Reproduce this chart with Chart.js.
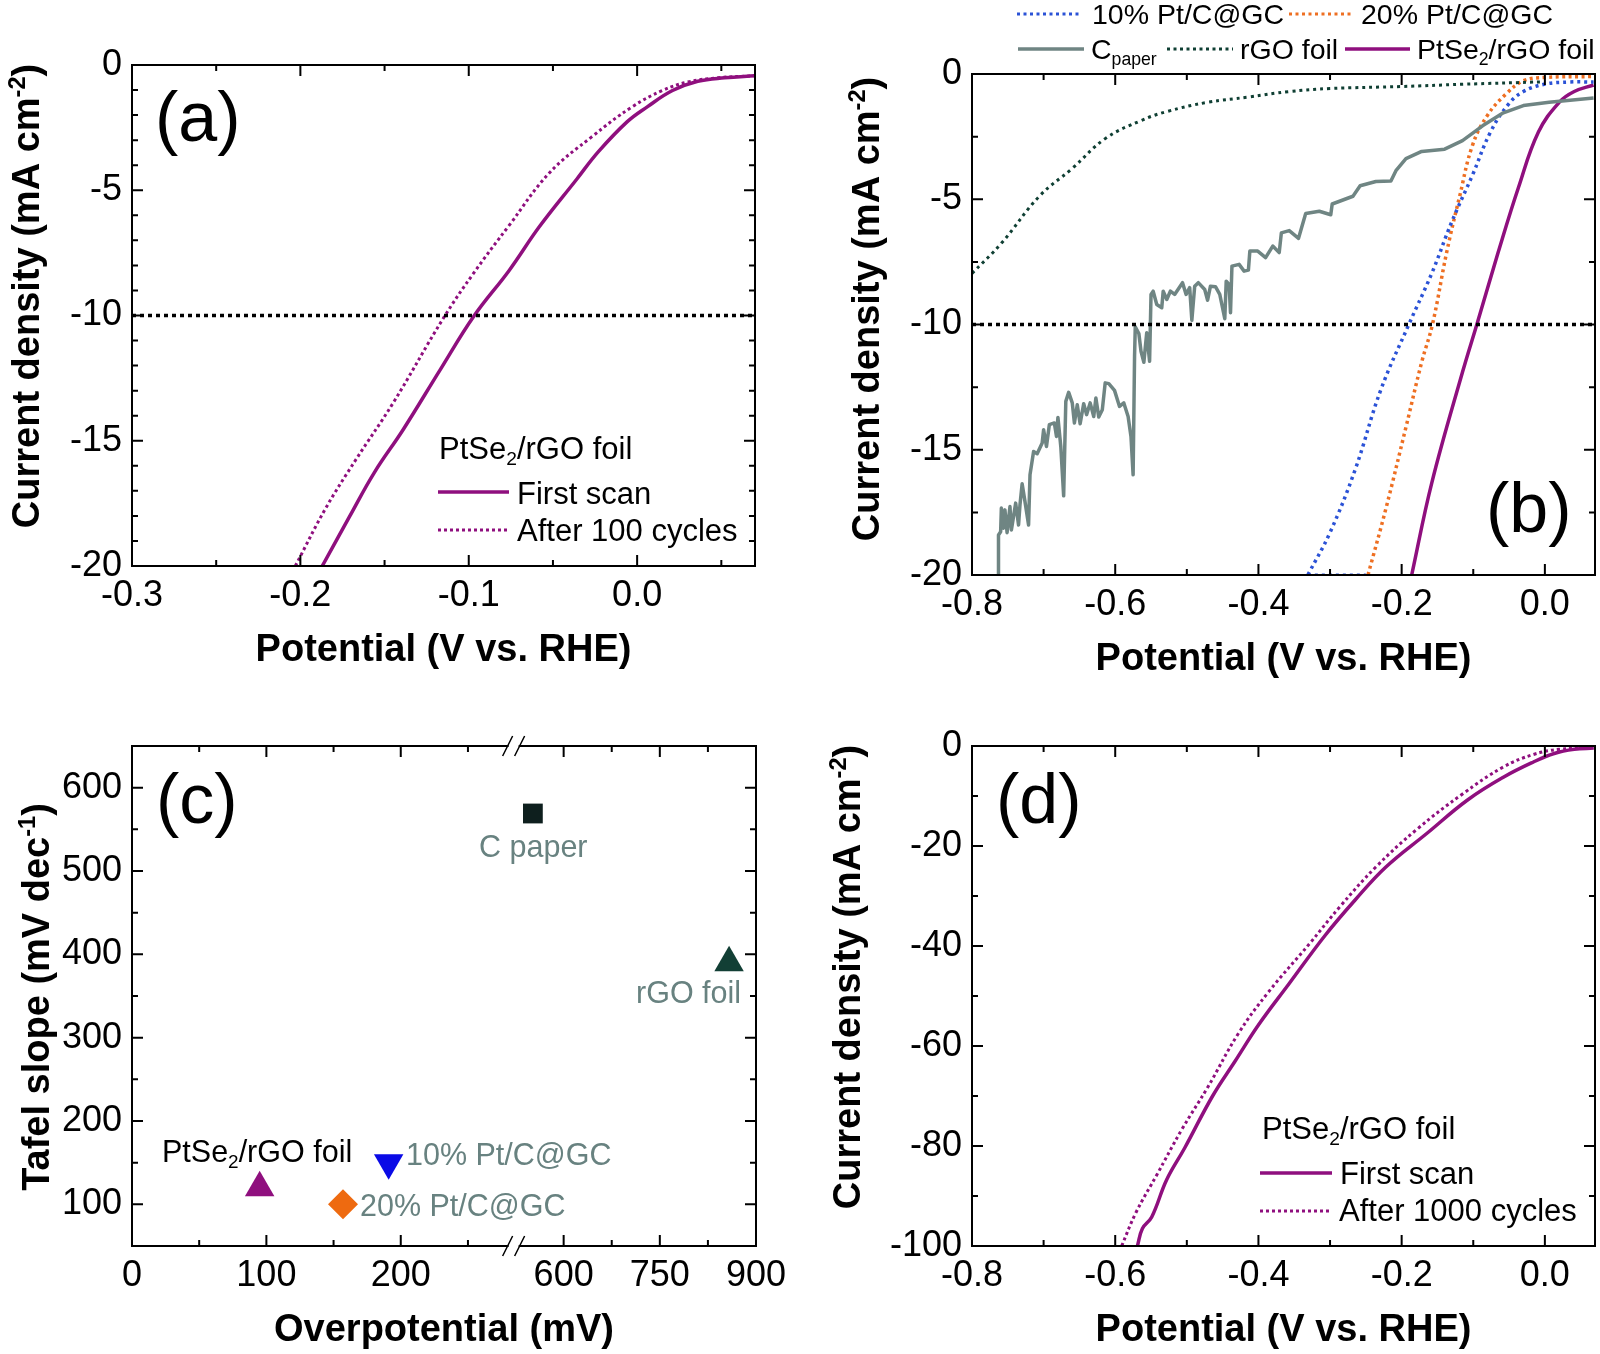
<!DOCTYPE html>
<html>
<head>
<meta charset="utf-8">
<title>PtSe2/rGO foil</title>
<script src="https://cdn.jsdelivr.net/npm/chart.js@4"></script>
<style>
  html, body { margin: 0; padding: 0; background: #fff; }
  #page { position: relative; width: 1600px; height: 1354px; overflow: hidden; }
  canvas { position: absolute; }
</style>
</head>
<body>
<div id="page">
  <canvas id="panelA" width="800" height="690" style="left:0;top:0"></canvas>
  <canvas id="panelB" width="800" height="690" style="left:800px;top:0"></canvas>
  <canvas id="panelC" width="800" height="664" style="left:0;top:690px"></canvas>
  <canvas id="panelD" width="800" height="664" style="left:800px;top:690px"></canvas>
</div>
<script>
// panel (a)
const aFirstX = [-0.187, -0.171, -0.156, -0.139, -0.117, -0.097, -0.076, -0.058, -0.036, -0.023, -0.006, 0.006, 0.021, 0.036, 0.052, 0.07];
const aFirstY = [-20, -18.05, -16.26, -14.56, -12.17, -10.03, -8.2, -6.45, -4.57, -3.46, -2.27, -1.67, -1.02, -0.65, -0.51, -0.43];
const aCycledX = [-0.203, -0.185, -0.167, -0.145, -0.115, -0.097, -0.076, -0.052, -0.027, -0.003, 0.015, 0.03, 0.048, 0.07];
const aCycledY = [-20, -17.7, -15.75, -13.5, -10.1, -8.3, -6.4, -4.3, -2.87, -1.67, -1.02, -0.68, -0.51, -0.43];

// panel (b)
const b10X = [-0.331, -0.3, -0.265, -0.229, -0.19, -0.158, -0.13, -0.101, -0.076, -0.051, -0.03, -0.001, 0.034, 0.068];
const b10Y = [-20, -18.3, -15.8, -12.6, -10, -7.96, -5.9, -4.03, -2.32, -1.21, -0.7, -0.41, -0.32, -0.32];
const b10BaseX = [-0.331, -0.25];
const b10BaseY = [-20, -20];
const b20X = [-0.247, -0.222, -0.194, -0.172, -0.157, -0.137, -0.119, -0.101, -0.08, -0.055, -0.03, -0.001, 0.068];
const b20Y = [-20, -17.35, -14.1, -11.5, -10, -7.1, -4.88, -2.84, -1.64, -0.82, -0.27, -0.14, -0.1];
const bPtSeX = [-0.186, -0.158, -0.115, -0.095, -0.065, -0.037, -0.009, 0.02, 0.041, 0.068];
const bPtSeY = [-20, -16.33, -11.9, -10, -7.1, -4.54, -2.32, -1.13, -0.7, -0.44];
const bRgoX = [-0.8, -0.759, -0.706, -0.66, -0.614, -0.564, -0.528, -0.471, -0.414, -0.357, -0.3, -0.2, -0.115, 0];
const bRgoY = [-7.96, -6.76, -4.88, -3.77, -2.58, -1.86, -1.5, -1.13, -0.92, -0.7, -0.58, -0.5, -0.41, -0.31];
const bPaperX = [-0.763, -0.763, -0.76, -0.759, -0.756, -0.754, -0.751, -0.747, -0.745, -0.739, -0.735, -0.733, -0.73, -0.726, -0.721, -0.719, -0.714, -0.709, -0.702, -0.7, -0.696, -0.692, -0.685, -0.682, -0.68, -0.676, -0.672, -0.669, -0.665, -0.66, -0.657, -0.653, -0.649, -0.644, -0.64, -0.635, -0.63, -0.627, -0.623, -0.618, -0.614, -0.609, -0.601, -0.594, -0.588, -0.582, -0.578, -0.575, -0.573, -0.572, -0.567, -0.564, -0.56, -0.556, -0.552, -0.55, -0.547, -0.542, -0.535, -0.533, -0.528, -0.523, -0.517, -0.506, -0.501, -0.496, -0.493, -0.489, -0.484, -0.475, -0.471, -0.467, -0.46, -0.454, -0.447, -0.445, -0.441, -0.439, -0.437, -0.427, -0.42, -0.414, -0.412, -0.401, -0.39, -0.38, -0.371, -0.368, -0.357, -0.344, -0.334, -0.315, -0.299, -0.297, -0.268, -0.258, -0.236, -0.215, -0.208, -0.194, -0.172, -0.14, -0.115, -0.087, -0.058, -0.03, 0.006, 0.068];
const bPaperY = [-20, -18.4, -18.27, -17.33, -18.13, -17.4, -18.31, -17.27, -18.2, -17.13, -18, -17.2, -16.36, -17.07, -18, -16, -15.07, -15.16, -14.73, -14.2, -14.87, -14, -13.93, -14.47, -13.71, -14.87, -16.84, -13.07, -12.71, -13.13, -13.93, -13.2, -13.96, -13.16, -13.6, -13.13, -13.67, -12.93, -13.69, -13.4, -12.33, -12.36, -12.63, -13.27, -13.13, -13.67, -14.47, -16, -11.27, -10.09, -10.36, -11.07, -11.51, -10.33, -11.47, -8.8, -8.67, -9.2, -9.33, -8.67, -9, -8.67, -8.8, -8.33, -8.8, -8.53, -9.83, -8.47, -8.33, -8.6, -9.03, -8.47, -8.49, -8.8, -9.77, -8.27, -8.4, -9.53, -7.67, -7.6, -7.87, -7.83, -7.07, -7.07, -7.33, -6.87, -7.13, -6.34, -6.25, -6.56, -5.57, -5.48, -5.62, -5.19, -4.88, -4.46, -4.29, -4.27, -3.86, -3.38, -3.09, -3, -2.66, -2.07, -1.55, -1.26, -1.13, -0.96];

// panel (c)
const tafelNames = ['C paper', 'rGO foil', 'PtSe2/rGO foil', '10% Pt/C@GC', '20% Pt/C@GC'];
const tafelOver = [552, 858, 95, 191, 157];
const tafelSlope = [569, 390, 120, 150, 100];

// panel (d)
const dFirstX = [-0.569, -0.562, -0.549, -0.528, -0.503, -0.464, -0.432, -0.4, -0.357, -0.307, -0.265, -0.222, -0.165, -0.108, -0.058, -0.016, 0.013, 0.041, 0.068];
const dFirstY = [-100, -96.5, -94.2, -86.7, -80.4, -70, -62.9, -55.8, -47.5, -37.9, -30.8, -24.2, -17.5, -10.8, -6.25, -3.2, -1.5, -0.67, -0.42];
const dCycledX = [-0.591, -0.571, -0.542, -0.507, -0.471, -0.428, -0.386, -0.329, -0.286, -0.236, -0.179, -0.115, -0.058, -0.016, 0.02, 0.068];
const dCycledY = [-100, -93.3, -85.8, -76.7, -68.3, -57.5, -49.2, -39.6, -32.1, -24.2, -16.7, -9.6, -4.2, -1.7, -0.67, -0.42];

// ticks
const aXMajor = [-0.3, -0.2, -0.1, 0];
const aXMinor = [-0.25, -0.15, -0.05, 0.05];
const aYMajor = [0, -5, -10, -15, -20];
const aYMinor = [-1, -2, -3, -4, -6, -7, -8, -9, -11, -12, -13, -14, -16, -17, -18, -19];
const wideXMajor = [-0.8, -0.6, -0.4, -0.2, 0];
const wideXMinor = [-0.7, -0.5, -0.3, -0.1];
const bYMinor = [-2.5, -7.5, -12.5, -17.5];
const cXMajor = [0, 100, 200, 600, 750, 900];
const cXMinor = [50, 150, 250, 675, 825];
const cYMajor = [100, 200, 300, 400, 500, 600];
const cYMinor = [150, 250, 350, 450, 550];
const dYMajor = [0, -20, -40, -60, -80, -100];
const dYMinor = [-10, -30, -50, -70, -90];

const FONT = '"Liberation Sans", Arial, sans-serif';
const PURPLE = '#8f0f7e';
const GREY = '#6f8583';
const TEXTGREY = '#688280';

// x axis of panel (c) is cut between 284 and 522 mV
const BREAK_LOW = 284, BREAK_HIGH = 522, BREAK_AT = 0.6116;
class BrokenScale extends Chart.LinearScale {
  getPixelForValue(value) {
    let f;
    if (value <= BREAK_LOW) f = value / BREAK_LOW * BREAK_AT;
    else f = BREAK_AT + (value - BREAK_HIGH) / (this.max - BREAK_HIGH) * (1 - BREAK_AT);
    return this.left + f * this.width;
  }
}
BrokenScale.id = 'broken';
BrokenScale.defaults = Chart.LinearScale.defaults;
Chart.register(BrokenScale);

function pts(xs, ys) {
  return xs.map((x, i) => ({ x: x, y: ys[i] }));
}

function line(name, data, color, width, dash, tension) {
  return {
    label: name, data: data, showLine: true, pointRadius: 0,
    borderColor: color, backgroundColor: color, borderWidth: width,
    borderDash: dash || [], borderCapStyle: 'butt', borderJoinStyle: 'round',
    tension: tension === undefined ? 0.4 : tension
  };
}

function refLine(x0, x1) {
  return line('j = -10', [{ x: x0, y: -10 }, { x: x1, y: -10 }], '#000', 3.5, [4, 4], 0);
}

// text with sub/superscript pieces: [text, 'sub'|'sup']
function drawRich(ctx, segs, x, y, size, color, weight, centered) {
  const widths = segs.map(s => {
    const k = s[1] ? 0.62 : 1;
    ctx.font = (weight || '') + ' ' + size * k + 'px ' + FONT;
    return ctx.measureText(s[0]).width;
  });
  let cx = centered ? x - widths.reduce((a, b) => a + b, 0) / 2 : x;
  ctx.fillStyle = color;
  ctx.textAlign = 'left';
  ctx.textBaseline = 'alphabetic';
  segs.forEach((s, i) => {
    const k = s[1] ? 0.62 : 1;
    const dy = s[1] === 'sub' ? size * 0.2 : s[1] === 'sup' ? -size * 0.38 : 0;
    ctx.font = (weight || '') + ' ' + size * k + 'px ' + FONT;
    ctx.fillText(s[0], cx, y + dy);
    cx += widths[i];
  });
}

// frame, inward ticks on four sides, texts and legend samples
const panelDecor = {
  id: 'panelDecor',
  afterDraw(chart, args, o) {
    const { ctx, chartArea: a, scales } = chart;
    const sx = scales.x, sy = scales.y;
    ctx.save();
    ctx.strokeStyle = '#000';
    ctx.lineWidth = 2;
    ctx.setLineDash([]);
    ctx.strokeRect(a.left, a.top, a.right - a.left, a.bottom - a.top);

    const mark = (list, len) => {
      ctx.beginPath();
      list.x.forEach(v => {
        const p = sx.getPixelForValue(v);
        ctx.moveTo(p, a.bottom); ctx.lineTo(p, a.bottom - len);
        ctx.moveTo(p, a.top); ctx.lineTo(p, a.top + len);
      });
      list.y.forEach(v => {
        const p = sy.getPixelForValue(v);
        ctx.moveTo(a.left, p); ctx.lineTo(a.left + len, p);
        ctx.moveTo(a.right, p); ctx.lineTo(a.right - len, p);
      });
      ctx.stroke();
    };
    mark({ x: o.xMajor, y: o.yMajor }, 11);
    mark({ x: o.xMinor, y: o.yMinor }, 6);

    // break marks
    if (o.broken) {
      const bx = a.left + BREAK_AT * (a.right - a.left);
      [a.top, a.bottom].forEach(y => {
        ctx.fillStyle = '#fff';
        ctx.fillRect(bx - 5, y - 2, 10, 4);
        ctx.strokeStyle = '#000';
        ctx.lineWidth = 1.5;
        ctx.beginPath();
        ctx.moveTo(bx - 11, y + 10); ctx.lineTo(bx - 1, y - 10);
        ctx.moveTo(bx + 1, y + 10); ctx.lineTo(bx + 11, y - 10);
        ctx.stroke();
      });
    }

    // panel letter and y title
    drawRich(ctx, [[o.letter]], o.letterX, o.letterY, 70, '#000');
    ctx.save();
    ctx.translate(o.yTitleX, o.yTitleY);
    ctx.rotate(-Math.PI / 2);
    drawRich(ctx, o.yTitle, 0, 0, 38, '#000', 'bold', true);
    ctx.restore();

    (o.samples || []).forEach(s => {
      ctx.strokeStyle = s.color;
      ctx.lineWidth = s.width;
      ctx.setLineDash(s.dash || []);
      ctx.beginPath();
      ctx.moveTo(s.x0, s.y); ctx.lineTo(s.x1, s.y);
      ctx.stroke();
    });
    ctx.setLineDash([]);
    (o.texts || []).forEach(t => drawRich(ctx, t.segs, t.x, t.y, o.textSize, t.color || '#000'));
    ctx.restore();
  }
};

function xAxis(type, min, max, major, fmt, title, height, titlePad) {
  return {
    type: type, min: min, max: max,
    grid: { display: false, drawTicks: false }, border: { display: false },
    afterBuildTicks: s => { s.ticks = major.map(v => ({ value: v })); },
    afterFit: s => { s.height = height; },
    ticks: {
      color: '#000', autoSkip: false, maxRotation: 0, padding: 8,
      font: { family: FONT, size: 36 }, callback: fmt
    },
    title: {
      display: true, text: title, color: '#000',
      font: { family: FONT, size: 38, weight: 'bold' },
      padding: { top: 0, bottom: titlePad }
    }
  };
}

function yAxis(min, max, major, width) {
  return {
    type: 'linear', min: min, max: max,
    grid: { display: false, drawTicks: false }, border: { display: false },
    afterBuildTicks: s => { s.ticks = major.map(v => ({ value: v })); },
    afterFit: s => { s.width = width; },
    ticks: {
      color: '#000', autoSkip: false, padding: 10,
      font: { family: FONT, size: 36 }, callback: v => String(v)
    }
  };
}

function makeChart(id, datasets, x, y, pad, decor) {
  return new Chart(document.getElementById(id), {
    type: 'scatter',
    data: { datasets: datasets },
    options: {
      responsive: false, animation: false, devicePixelRatio: 1,
      layout: { padding: pad },
      scales: { x: x, y: y },
      plugins: { legend: { display: false }, tooltip: { enabled: false }, panelDecor: decor }
    },
    plugins: [panelDecor]
  });
}

const fixed1 = v => v.toFixed(1);
const jTitle = [['Current density (mA cm'], ['-2', 'sup'], [')']];
const foil = [['PtSe'], ['2', 'sub'], ['/rGO foil']];

makeChart('panelA',
  [
    refLine(-0.3, 0.07),
    line('First scan', pts(aFirstX, aFirstY), PURPLE, 3.5),
    line('After 100 cycles', pts(aCycledX, aCycledY), PURPLE, 3, [3, 3])
  ],
  xAxis('linear', -0.3, 0.07, aXMajor, fixed1, 'Potential (V vs. RHE)', 124, 17),
  yAxis(-20, 0, aYMajor, 132),
  { top: 65, right: 45 },
  {
    xMajor: aXMajor, xMinor: aXMinor, yMajor: aYMajor, yMinor: aYMinor,
    letter: '(a)', letterX: 155, letterY: 141, textSize: 31,
    yTitle: jTitle, yTitleX: 39, yTitleY: 296,
    samples: [
      { x0: 438, x1: 509, y: 492, color: PURPLE, width: 3.5 },
      { x0: 438, x1: 509, y: 530, color: PURPLE, width: 3, dash: [3, 3] }
    ],
    texts: [
      { segs: foil, x: 439, y: 459 },
      { segs: [['First scan']], x: 517, y: 504 },
      { segs: [['After 100 cycles']], x: 517, y: 541 }
    ]
  });

makeChart('panelB',
  [
    refLine(-0.8, 0.07),
    line('C paper', pts(bPaperX, bPaperY), GREY, 3.5, [], 0),
    line('rGO foil', pts(bRgoX, bRgoY), '#0f3f33', 3, [3, 4]),
    line('10% Pt/C@GC', pts(b10X, b10Y), '#2b52d6', 3.5, [3, 4]),
    line('10% Pt/C@GC base', pts(b10BaseX, b10BaseY), '#2b52d6', 3, [3, 4], 0),
    line('20% Pt/C@GC', pts(b20X, b20Y), '#ee6f22', 3.5, [3, 3.5]),
    line('PtSe2/rGO foil', pts(bPtSeX, bPtSeY), PURPLE, 3.5)
  ],
  xAxis('linear', -0.8, 0.07, wideXMajor, fixed1, 'Potential (V vs. RHE)', 115, 8),
  yAxis(-20, 0, aYMajor, 172),
  { top: 74, right: 5 },
  {
    xMajor: wideXMajor, xMinor: wideXMinor, yMajor: aYMajor, yMinor: bYMinor,
    letter: '(b)', letterX: 686, letterY: 532, textSize: 28.5,
    yTitle: jTitle, yTitleX: 79, yTitleY: 309,
    samples: [
      { x0: 217, x1: 282, y: 14, color: '#2b52d6', width: 3, dash: [3, 3.5] },
      { x0: 489, x1: 554, y: 14, color: '#ee6f22', width: 3, dash: [3, 3.5] },
      { x0: 218, x1: 284, y: 49, color: GREY, width: 3.5 },
      { x0: 367, x1: 433, y: 49, color: '#0f3f33', width: 3, dash: [3, 3.5] },
      { x0: 545, x1: 610, y: 49, color: PURPLE, width: 3.5 }
    ],
    texts: [
      { segs: [['10% Pt/C@GC']], x: 292, y: 24 },
      { segs: [['20% Pt/C@GC']], x: 561, y: 24 },
      { segs: [['C'], ['paper', 'sub']], x: 291, y: 59 },
      { segs: [['rGO foil']], x: 440, y: 59 },
      { segs: foil, x: 617, y: 59 }
    ]
  });

makeChart('panelC',
  [
    { label: tafelNames[0], data: [{ x: tafelOver[0], y: tafelSlope[0] }], pointStyle: 'rect', pointRadius: 14, backgroundColor: '#0e1f1e', borderWidth: 0 },
    { label: tafelNames[1], data: [{ x: tafelOver[1], y: tafelSlope[1] }], pointStyle: 'triangle', pointRadius: 17, backgroundColor: '#123f35', borderWidth: 0 },
    { label: tafelNames[2], data: [{ x: tafelOver[2], y: tafelSlope[2] }], pointStyle: 'triangle', pointRadius: 17, backgroundColor: PURPLE, borderWidth: 0 },
    { label: tafelNames[3], data: [{ x: tafelOver[3], y: tafelSlope[3] }], pointStyle: 'triangle', pointRotation: 180, pointRadius: 17, backgroundColor: '#0a0ae6', borderWidth: 0 },
    { label: tafelNames[4], data: [{ x: tafelOver[4], y: tafelSlope[4] }], pointStyle: 'rectRot', pointRadius: 15, backgroundColor: '#ee6a10', borderWidth: 0 }
  ],
  xAxis('broken', 0, 900, cXMajor, v => String(v), 'Overpotential (mV)', 108, 1),
  yAxis(50, 650, cYMajor, 132),
  { top: 56, right: 44 },
  {
    xMajor: cXMajor, xMinor: cXMinor, yMajor: cYMajor, yMinor: cYMinor, broken: true,
    letter: '(c)', letterX: 156, letterY: 133, textSize: 30.5,
    yTitle: [['Tafel slope (mV dec'], ['-1', 'sup'], [')']], yTitleX: 49, yTitleY: 307,
    texts: [
      { segs: [['C paper']], x: 479, y: 167, color: TEXTGREY },
      { segs: [['rGO foil']], x: 636, y: 313, color: TEXTGREY },
      { segs: foil, x: 162, y: 472 },
      { segs: [['10% Pt/C@GC']], x: 406, y: 475, color: TEXTGREY },
      { segs: [['20% Pt/C@GC']], x: 360, y: 526, color: TEXTGREY }
    ]
  });

makeChart('panelD',
  [
    line('First scan', pts(dFirstX, dFirstY), PURPLE, 3.5),
    line('After 1000 cycles', pts(dCycledX, dCycledY), PURPLE, 3, [3, 3])
  ],
  xAxis('linear', -0.8, 0.07, wideXMajor, fixed1, 'Potential (V vs. RHE)', 108, 1),
  yAxis(-100, 0, dYMajor, 172),
  { top: 56, right: 5 },
  {
    xMajor: wideXMajor, xMinor: wideXMinor, yMajor: dYMajor, yMinor: dYMinor,
    letter: '(d)', letterX: 196, letterY: 133, textSize: 31,
    yTitle: jTitle, yTitleX: 60, yTitleY: 287,
    samples: [
      { x0: 460, x1: 532, y: 483, color: PURPLE, width: 3.5 },
      { x0: 460, x1: 532, y: 521, color: PURPLE, width: 3, dash: [3, 3] }
    ],
    texts: [
      { segs: foil, x: 462, y: 449 },
      { segs: [['First scan']], x: 540, y: 494 },
      { segs: [['After 1000 cycles']], x: 539, y: 531 }
    ]
  });
</script>
</body>
</html>
